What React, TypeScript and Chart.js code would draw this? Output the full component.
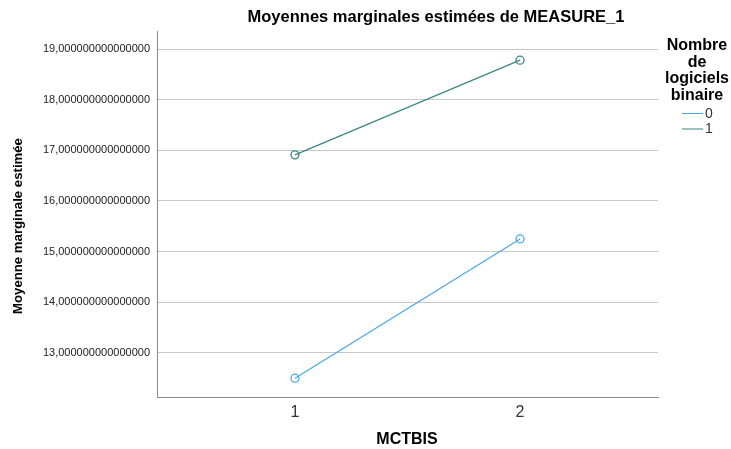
import React, { useEffect, useRef } from "react";
import { Chart, registerables } from "chart.js";

Chart.register(...registerables);

const xValues = [1, 2];
const xTickLabels = ["1", "2"];
const series0 = [12.5, 15.25];
const series1 = [16.91, 18.78];
const seriesLabels = ["0", "1"];
const yTicks = [13, 14, 15, 16, 17, 18, 19];
const titleText = "Moyennes marginales estimées de MEASURE_1";
const xTitle = "MCTBIS";
const yTitle = "Moyenne marginale estimée";
const legendTitle = ["Nombre", "de", "logiciels", "binaire"];

const colors = ["#4aa6e6", "#3a8585"];
const FONT = "'Liberation Sans', Arial, sans-serif";

const textPlugin = {
  id: "texts",
  afterDraw(chart: any) {
    const ctx = chart.ctx;
    const area = chart.chartArea;
    ctx.save();
    ctx.fillStyle = "#000";
    ctx.textAlign = "center";
    ctx.textBaseline = "middle";
    ctx.font = `bold 16.5px ${FONT}`;
    ctx.fillText(titleText, 436, 17);
    ctx.font = `bold 16px ${FONT}`;
    ctx.fillText(xTitle, (area.left + area.right) / 2 - 0.5, 440);
    // y title
    ctx.save();
    ctx.translate(18, 226);
    ctx.rotate(-Math.PI / 2);
    ctx.font = `bold 13.2px ${FONT}`;
    ctx.fillText(yTitle, 0, 0);
    ctx.restore();
    // legend
    ctx.font = `bold 16px ${FONT}`;
    legendTitle.forEach((t, i) => ctx.fillText(t, 697, 46 + i * 16.5));
    ctx.font = `14px ${FONT}`;
    ctx.textAlign = "left";
    seriesLabels.forEach((l, i) => {
      const y = 113 + i * 15.5;
      ctx.strokeStyle = colors[i];
      ctx.lineWidth = 1;
      ctx.beginPath();
      ctx.moveTo(682, y + 0.5);
      ctx.lineTo(703, y + 0.5);
      ctx.stroke();
      ctx.fillStyle = "#333";
      ctx.fillText(l, 705, y + 1);
    });
    ctx.restore();
  },
};

export default function App() {
  const ref = useRef<HTMLCanvasElement>(null);
  useEffect(() => {
    const mk = (vals: number[]) => xValues.map((x, i) => ({ x, y: vals[i] }));
    const chart = new Chart(ref.current!, {
      type: "line",
      data: {
        datasets: [series0, series1].map((s, i) => ({
          label: seriesLabels[i],
          data: mk(s),
          borderColor: colors[i],
          backgroundColor: "rgba(255,255,255,0)",
          borderWidth: 1.2,
          pointRadius: 4,
          pointBorderWidth: 1.3,
          pointBackgroundColor: "rgba(255,255,255,0)",
          pointBorderColor: colors[i],
        })),
      },
      options: {
        animation: false,
        responsive: false,
        devicePixelRatio: 1,
        layout: { padding: { left: 0, right: 73, top: 31, bottom: 0 } },
        plugins: { legend: { display: false }, tooltip: { enabled: false }, title: { display: false } },
        scales: {
          x: {
            type: "linear",
            min: 0.387,
            max: 2.613,
            afterBuildTicks: (scale: any) => {
              scale.ticks = xValues.map((v) => ({ value: v }));
            },
            afterFit: (scale: any) => {
              scale.height = 52;
            },
            grid: { display: false, drawTicks: false },
            border: { display: true, color: "#888", width: 1 },
            ticks: {
              padding: 6,
              color: "#333",
              font: { family: FONT, size: 16 },
              callback: (v: any) => xTickLabels[xValues.indexOf(Number(v))] ?? "",
            },
          },
          y: {
            type: "linear",
            min: 12.129,
            max: 19.356,
            afterBuildTicks: (scale: any) => {
              scale.ticks = yTicks.map((v) => ({ value: v }));
            },
            afterFit: (scale: any) => {
              scale.width = 157;
            },
            grid: { color: "#c8c8c8", lineWidth: 1, drawTicks: false },
            border: { display: true, color: "#888", width: 1 },
            ticks: {
              padding: 7,
              color: "#222",
              font: { family: FONT, size: 11 },
              callback: (v: any) => Number(v).toFixed(15).replace(".", ","),
            },
          },
        },
      },
      plugins: [textPlugin],
    });
    return () => chart.destroy();
  }, []);
  return (
    <div style={{ position: "fixed", left: 0, top: 0, width: 731, height: 449, background: "#fff" }}>
      <canvas ref={ref} width={731} height={449} style={{ width: 731, height: 449 }} />
    </div>
  );
}
